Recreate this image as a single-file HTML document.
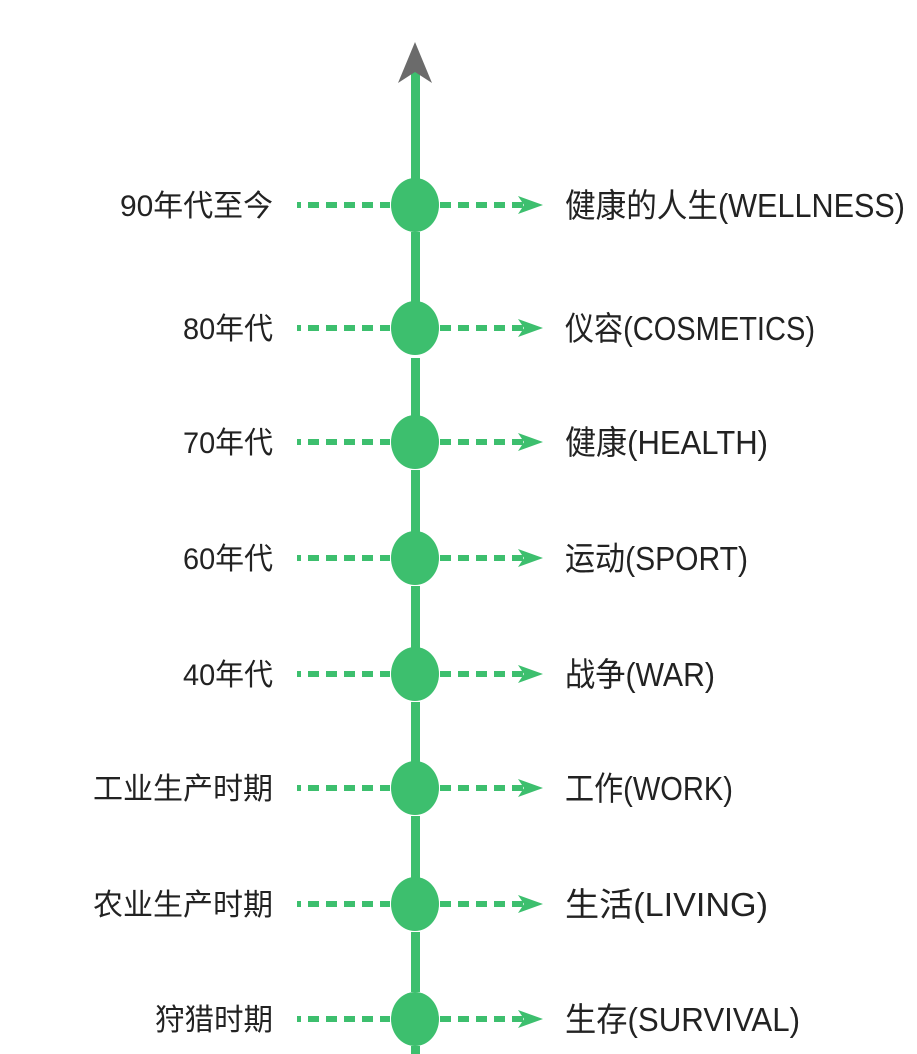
<!DOCTYPE html>
<html><head><meta charset="utf-8"><style>body{margin:0;background:#fff}</style></head><body>
<svg width="917" height="1054" xmlns="http://www.w3.org/2000/svg" style="display:block">
<defs>
<g id="row">
<line x1="297" y1="0" x2="390" y2="0" stroke="#3dbf6e" stroke-width="6" stroke-dasharray="4 7 11 7 11 7 11 7 11 7 11 7"/>
<line x1="440" y1="0" x2="528" y2="0" stroke="#3dbf6e" stroke-width="6" stroke-dasharray="11 7"/>
<polygon points="518,-9 543,0 518,9 524,0" fill="#3dbf6e"/>
<ellipse cx="415" cy="0" rx="24" ry="27" fill="#3dbf6e"/>
</g>
</defs>
<g fill="#3dbf6e">
<rect x="411" y="70" width="9" height="110"/>
<rect x="411" y="232" width="9" height="70"/>
<rect x="411" y="358" width="9" height="58"/>
<rect x="411" y="470" width="9" height="62"/>
<rect x="411" y="586" width="9" height="62"/>
<rect x="411" y="702" width="9" height="60"/>
<rect x="411" y="816" width="9" height="62"/>
<rect x="411" y="932" width="9" height="60"/>
<rect x="411" y="1046" width="9" height="8"/>
</g>
<polygon points="415,42 432,83 415,72 398,83" fill="#6b6b6b"/>
<use href="#row" y="205"/>
<use href="#row" y="328"/>
<use href="#row" y="442"/>
<use href="#row" y="558"/>
<use href="#row" y="674"/>
<use href="#row" y="788"/>
<use href="#row" y="904"/>
<use href="#row" y="1019"/>
<g font-family="'Liberation Sans','Noto Sans CJK SC',sans-serif" font-size="30" fill="#222">
<text x="120" y="216" textLength="153" lengthAdjust="spacingAndGlyphs">90年代至今</text>
<text x="183" y="339" textLength="90" lengthAdjust="spacingAndGlyphs">80年代</text>
<text x="183" y="453" textLength="90" lengthAdjust="spacingAndGlyphs">70年代</text>
<text x="183" y="569" textLength="90" lengthAdjust="spacingAndGlyphs">60年代</text>
<text x="183" y="685" textLength="90" lengthAdjust="spacingAndGlyphs">40年代</text>
<text x="93" y="799" textLength="180" lengthAdjust="spacingAndGlyphs">工业生产时期</text>
<text x="93" y="915" textLength="180" lengthAdjust="spacingAndGlyphs">农业生产时期</text>
<text x="155" y="1030" textLength="118" lengthAdjust="spacingAndGlyphs">狩猎时期</text>
</g>
<g font-family="'Liberation Sans','Noto Sans CJK SC',sans-serif" font-size="33" fill="#222">
<text x="565" y="217" textLength="340" lengthAdjust="spacingAndGlyphs">健康的人生(WELLNESS)</text>
<text x="565" y="340" textLength="250" lengthAdjust="spacingAndGlyphs">仪容(COSMETICS)</text>
<text x="565" y="454" textLength="203" lengthAdjust="spacingAndGlyphs">健康(HEALTH)</text>
<text x="565" y="570" textLength="183" lengthAdjust="spacingAndGlyphs">运动(SPORT)</text>
<text x="565" y="686" textLength="150" lengthAdjust="spacingAndGlyphs">战争(WAR)</text>
<text x="565" y="800" textLength="168" lengthAdjust="spacingAndGlyphs">工作(WORK)</text>
<text x="565" y="916" textLength="203" lengthAdjust="spacingAndGlyphs">生活(LIVING)</text>
<text x="565" y="1031" textLength="235" lengthAdjust="spacingAndGlyphs">生存(SURVIVAL)</text>
</g>
</svg>
</body></html>
